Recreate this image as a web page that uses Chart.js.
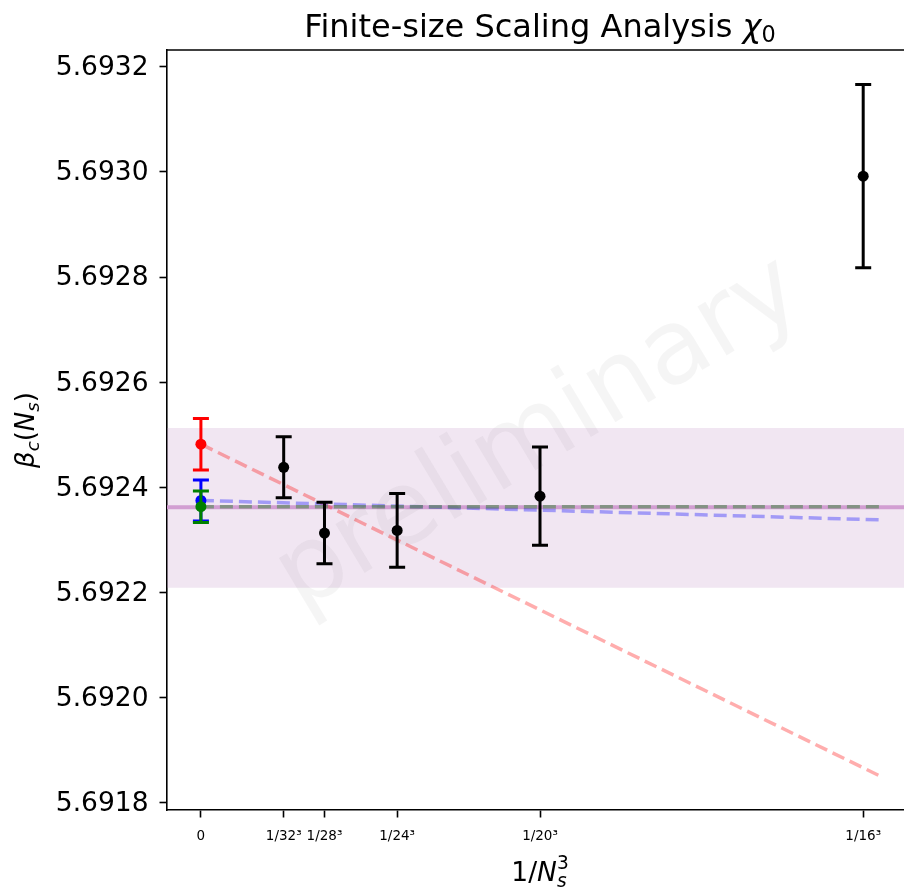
<!DOCTYPE html>
<html>
<head>
<meta charset="utf-8">
<script src="https://cdn.jsdelivr.net/npm/chart.js@4.4.1/dist/chart.umd.min.js"></script>
<style>
html, body { margin: 0; padding: 0; background: #fff; overflow: hidden; width: 904px; height: 888px; }
#wrap { width: 920px; height: 888px; }
</style>
</head>
<body>
<div id="wrap"><canvas id="chart"></canvas></div>
<script>
// Finite-size scaling of beta_c vs 1/Ns^3 - Chart.js scatter + error bars

// x axis: 1/Ns^3
const NS = [32, 28, 24, 20, 16];
const X_TICKS = [0, 1 / 32 ** 3, 1 / 28 ** 3, 1 / 24 ** 3, 1 / 20 ** 3, 1 / 16 ** 3];
const X_TICK_LABELS = ['0', '1/32³', '1/28³', '1/24³', '1/20³', '1/16³'];
const X_MIN = -1.25e-5, X_MAX = 2.625e-4;
const Y_TICKS = [5.6918, 5.6920, 5.6922, 5.6924, 5.6926, 5.6928, 5.6930, 5.6932];
const Y_MIN = 5.691786, Y_MAX = 5.693232;

// measured beta_c(Ns)
const BETA_C = [5.692438, 5.692313, 5.692318, 5.692383, 5.692992];
const BETA_ERR = [0.000058, 0.0000585, 0.00007, 0.0000935, 0.0001745];

// extrapolated values at 1/Ns^3 = 0
const EXTRAP_NAMES = ['linear', 'quadratic', 'constant'];
const EXTRAP_COLORS = ['#ff0000', '#0000ff', '#008000'];
const EXTRAP_BETA = [5.692482, 5.692375, 5.692363];
const EXTRAP_ERR = [0.000049, 0.000039, 0.00003];

// fit curves (end points)
const FIT_X = [0, 2.5e-4];
const FIT_RED = [5.692482, 5.6918515];
const FIT_BLUE = [5.692375, 5.692338];
const FIT_GRAY = [5.692363, 5.692363];

// final estimate band
const BAND_MEAN = 5.692362;
const BAND_LO = 5.692209;
const BAND_HI = 5.692513;

const FONT = '"DejaVu Sans", sans-serif';

const pts = (xs, ys) => xs.map((x, i) => ({ x: x, y: ys[i] }));

// error bars drawn right after each dataset that carries them
const errorBars = {
    id: 'errorBars',
    afterDatasetDraw(chart, args) {
        const ds = chart.data.datasets[args.index];
        if (!ds.errors) return;
        const ctx = chart.ctx, xs = chart.scales.x, ys = chart.scales.y;
        ctx.save();
        ctx.strokeStyle = ds.backgroundColor;
        ctx.lineWidth = 3;
        ds.data.forEach((p, i) => {
            const px = xs.getPixelForValue(p.x);
            const top = ys.getPixelForValue(p.y + ds.errors[i]);
            const bot = ys.getPixelForValue(p.y - ds.errors[i]);
            ctx.beginPath();
            ctx.moveTo(px, top); ctx.lineTo(px, bot);
            ctx.moveTo(px - 8, top); ctx.lineTo(px + 8, top);
            ctx.moveTo(px - 8, bot); ctx.lineTo(px + 8, bot);
            ctx.stroke();
        });
        ctx.restore();
    }
};

// mixed-style text (mathtext-ish): [text, italic, scale, dy(em), advance]
function drawRich(ctx, parts, x, y, size) {
    const fontOf = p => `${p[1] ? 'italic ' : ''}${size * (p[2] || 1)}px ${FONT}`;
    let w = 0;
    parts.forEach(p => { ctx.font = fontOf(p); if (p[4] !== false) w += ctx.measureText(p[0]).width; });
    let cx = x - w / 2;
    ctx.textAlign = 'left';
    ctx.textBaseline = 'alphabetic';
    parts.forEach(p => {
        ctx.font = fontOf(p);
        ctx.fillText(p[0], cx, y + (p[3] || 0) * size);
        if (p[4] !== false) cx += ctx.measureText(p[0]).width;
    });
}

const labels = {
    id: 'labels',
    afterDraw(chart) {
        const ctx = chart.ctx, a = chart.chartArea;
        const cx = (a.left + a.right) / 2;
        ctx.save();
        ctx.fillStyle = '#000';
        // top spine
        ctx.strokeStyle = '#000';
        ctx.lineWidth = 1.6;
        ctx.beginPath(); ctx.moveTo(a.left, a.top); ctx.lineTo(a.right, a.top); ctx.stroke();
        // title
        drawRich(ctx, [['Finite-size Scaling Analysis ', 0], ['χ', 1], ['0', 0, 0.7, 0.15]], cx, 37, 32);
        // x label 1/Ns^3
        drawRich(ctx, [['1/', 0], ['N', 1], ['s', 1, 0.7, 0.22, false], ['3', 0, 0.7, -0.45]], cx, 881, 26.5);
        // y label beta_c(Ns)
        ctx.translate(34, (a.top + a.bottom) / 2);
        ctx.rotate(-Math.PI / 2);
        drawRich(ctx, [['β', 1], ['c', 1, 0.7, 0.2], ['(', 0], ['N', 1], ['s', 1, 0.7, 0.2], [')', 0]], 0, 0, 26);
        ctx.restore();

        // watermark
        ctx.save();
        ctx.translate(540, 436);
        ctx.rotate(-31 * Math.PI / 180);
        ctx.font = `104px ${FONT}`;
        ctx.textAlign = 'center';
        ctx.textBaseline = 'middle';
        ctx.fillStyle = 'rgba(0,0,0,0.04)';
        ctx.fillText('preliminary', 0, 0);
        ctx.restore();
    }
};

const dashed = (data, color) => ({
    data: data, showLine: true, borderColor: color, borderWidth: 3.5,
    borderDash: [13, 6], pointRadius: 0, fill: false
});

const datasets = [
    { label: 'beta_c(Ns)', data: pts(X_TICKS.slice(1), BETA_C), errors: BETA_ERR,
      backgroundColor: '#000', borderColor: '#000', pointRadius: 5.5, pointBorderWidth: 0 },
    { label: EXTRAP_NAMES[2], data: pts([0], [EXTRAP_BETA[2]]), errors: [EXTRAP_ERR[2]],
      backgroundColor: EXTRAP_COLORS[2], pointRadius: 5.5, pointBorderWidth: 0 },
    { label: EXTRAP_NAMES[1], data: pts([0], [EXTRAP_BETA[1]]), errors: [EXTRAP_ERR[1]],
      backgroundColor: EXTRAP_COLORS[1], pointRadius: 5.5, pointBorderWidth: 0 },
    { label: EXTRAP_NAMES[0], data: pts([0], [EXTRAP_BETA[0]]), errors: [EXTRAP_ERR[0]],
      backgroundColor: EXTRAP_COLORS[0], pointRadius: 5.5, pointBorderWidth: 0 },
    dashed(pts(FIT_X, FIT_GRAY), 'rgba(105,140,105,0.75)'),
    dashed(pts(FIT_X, FIT_BLUE), 'rgba(0,0,255,0.33)'),
    dashed(pts(FIT_X, FIT_RED), 'rgba(255,0,0,0.32)'),
    { data: pts([X_MIN, X_MAX], [BAND_MEAN, BAND_MEAN]), showLine: true, borderColor: '#d29ed2',
      borderWidth: 4, pointRadius: 0 },
    { data: pts([X_MIN, X_MAX], [BAND_HI, BAND_HI]), showLine: true, borderWidth: 0, pointRadius: 0,
      backgroundColor: 'rgba(190,140,195,0.22)', fill: '+1' },
    { data: pts([X_MIN, X_MAX], [BAND_LO, BAND_LO]), showLine: true, borderWidth: 0, pointRadius: 0 }
];

const tickGrid = { display: true, drawOnChartArea: false, drawTicks: true, tickLength: 7.5, tickWidth: 1.6, tickColor: '#000' };

new Chart(document.getElementById('chart'), {
    type: 'scatter',
    data: { datasets: datasets },
    options: {
        responsive: true, maintainAspectRatio: false, animation: false,
        layout: { padding: { left: 0, top: 50, right: 7, bottom: 0 } },
        plugins: { legend: { display: false }, tooltip: { enabled: false }, title: { display: false } },
        scales: {
            x: {
                type: 'linear', min: X_MIN, max: X_MAX,
                grid: tickGrid,
                border: { display: true, color: '#000', width: 1.6 },
                afterBuildTicks: s => { s.ticks = X_TICKS.map(v => ({ value: v })); },
                afterFit: s => { s.height = 78; },
                ticks: { autoSkip: false, maxRotation: 0, padding: 11, color: '#000',
                         font: { family: FONT, size: 13.5 },
                         callback: (v, i) => X_TICK_LABELS[i] }
            },
            y: {
                type: 'linear', min: Y_MIN, max: Y_MAX,
                grid: tickGrid,
                border: { display: true, color: '#000', width: 1.6 },
                afterBuildTicks: s => { s.ticks = Y_TICKS.map(v => ({ value: v })); },
                afterFit: s => { s.width = 167; },
                ticks: { padding: 11, labelOffset: 1.5, color: '#000', font: { family: FONT, size: 26.5 },
                         callback: v => v.toFixed(4) }
            }
        }
    },
    plugins: [errorBars, labels]
});
</script>
</body>
</html>
